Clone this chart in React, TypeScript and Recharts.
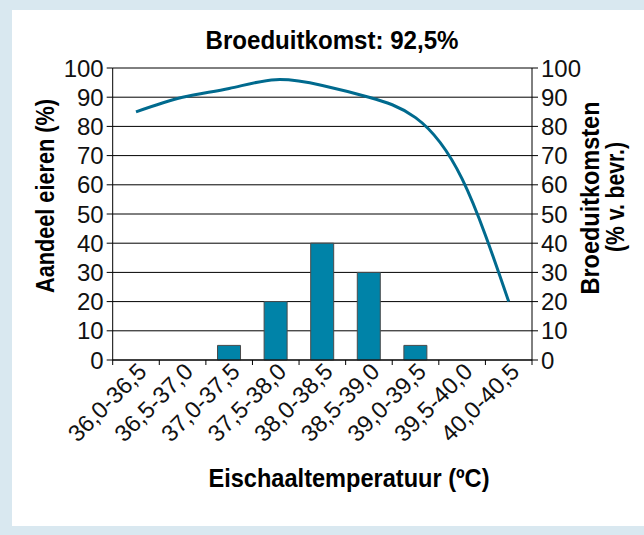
import {
  ComposedChart,
  Bar,
  Line,
  XAxis,
  YAxis,
  CartesianGrid,
} from "recharts";

// temperature classes (eggshell temperature, °C)
const categories = [
  "36,0-36,5",
  "36,5-37,0",
  "37,0-37,5",
  "37,5-38,0",
  "38,0-38,5",
  "38,5-39,0",
  "39,0-39,5",
  "39,5-40,0",
  "40,0-40,5",
];
// share of eggs per class (%)
const shareOfEggs = [0, 0, 5, 20, 40, 30, 5, 0, 0];
// hatch result (% of fertile eggs)
const hatchResults = [85, 90, 93, 96, 94, 90, 83, 62, 20];
const yTicks = [0, 10, 20, 30, 40, 50, 60, 70, 80, 90, 100];

const data = categories.map((name, i) => ({
  name,
  eggs: shareOfEggs[i],
  hatch: hatchResults[i],
}));

const tickFont = "'Liberation Sans', Arial, sans-serif";
const titleFont = "'Liberation Sans Narrow', 'Liberation Sans', Arial, sans-serif";

const XTick = (props: any) => {
  const { x, y, payload, index } = props;
  const half = payload && payload.offset ? payload.offset : 23.3;
  const lx = x + 12;
  const ly = y + 13;
  return (
    <g>
      <line x1={x - half} x2={x - half} y1={y} y2={y + 5} stroke="#000" />
      {index === categories.length - 1 && (
        <line x1={x + half} x2={x + half} y1={y} y2={y + 5} stroke="#000" />
      )}
      <text
        x={lx}
        y={ly}
        textAnchor="end"
        fontSize={23.5}
        fontFamily={tickFont}
        fill="#111"
        transform={`rotate(-45, ${lx}, ${ly})`}
      >
        {payload.value}
      </text>
    </g>
  );
};

export default function App() {
  return (
    <div
      style={{
        position: "absolute",
        left: 0,
        top: 0,
        width: 644,
        height: 535,
        background: "#d9e8f0",
      }}
    >
      <div
        style={{
          position: "absolute",
          left: 12,
          top: 10,
          width: 632,
          height: 516,
          background: "#fff",
        }}
      >
        <ComposedChart
          width={632}
          height={516}
          data={data}
          margin={{ top: 58, right: 0, left: 0, bottom: 0 }}
          barCategoryGap="25%"
        >
          <CartesianGrid vertical={false} stroke="#000" yAxisId="left" />
          <XAxis
            dataKey="name"
            height={166}
            interval={0}
            tickSize={0}
            tickMargin={0}
            stroke="#000"
            tick={<XTick />}
          />
          <YAxis
            yAxisId="left"
            width={100.7}
            domain={[0, 100]}
            ticks={yTicks}
            interval={0}
            tickSize={6}
            tickMargin={3}
            stroke="#000"
            tick={{ fontSize: 24, fontFamily: tickFont, fill: "#111" }}
          />
          <YAxis
            yAxisId="right"
            orientation="right"
            width={112}
            domain={[0, 100]}
            ticks={yTicks}
            interval={0}
            tickSize={6}
            tickMargin={3}
            stroke="#000"
            tick={{ fontSize: 24, fontFamily: tickFont, fill: "#111" }}
          />
          <Bar
            yAxisId="left"
            dataKey="eggs"
            fill="#0083a8"
            stroke="#4a4a4a"
            strokeWidth={1}
            isAnimationActive={false}
          />
          <Line
            yAxisId="right"
            dataKey="hatch"
            type="natural"
            stroke="#006a8e"
            strokeWidth={3}
            dot={false}
            activeDot={false}
            isAnimationActive={false}
          />
        </ComposedChart>
      </div>
      <svg
        width={644}
        height={535}
        style={{ position: "absolute", left: 0, top: 0, pointerEvents: "none" }}
      >
        <g fontFamily={titleFont} fontWeight="bold" fill="#000">
          <text
            x={332}
            y={40}
            textAnchor="middle"
            dominantBaseline="central"
            fontSize={26}
            textLength={253}
            lengthAdjust="spacingAndGlyphs"
          >
            Broeduitkomst: 92,5%
          </text>
          <text
            x={349}
            y={478}
            textAnchor="middle"
            dominantBaseline="central"
            fontSize={26}
            textLength={281}
            lengthAdjust="spacingAndGlyphs"
          >
            Eischaaltemperatuur (ºC)
          </text>
          <text
            x={45}
            y={196}
            textAnchor="middle"
            dominantBaseline="central"
            fontSize={25}
            textLength={194}
            lengthAdjust="spacingAndGlyphs"
            transform="rotate(-90, 45, 196)"
          >
            Aandeel eieren (%)
          </text>
          <text
            x={590}
            y={198}
            textAnchor="middle"
            dominantBaseline="central"
            fontSize={25}
            textLength={193}
            lengthAdjust="spacingAndGlyphs"
            transform="rotate(-90, 590, 198)"
          >
            Broeduitkomsten
          </text>
          <text
            x={615}
            y={197}
            textAnchor="middle"
            dominantBaseline="central"
            fontSize={25}
            textLength={110}
            lengthAdjust="spacingAndGlyphs"
            transform="rotate(-90, 615, 197)"
          >
            (% v. bevr.)
          </text>
        </g>
      </svg>
    </div>
  );
}
